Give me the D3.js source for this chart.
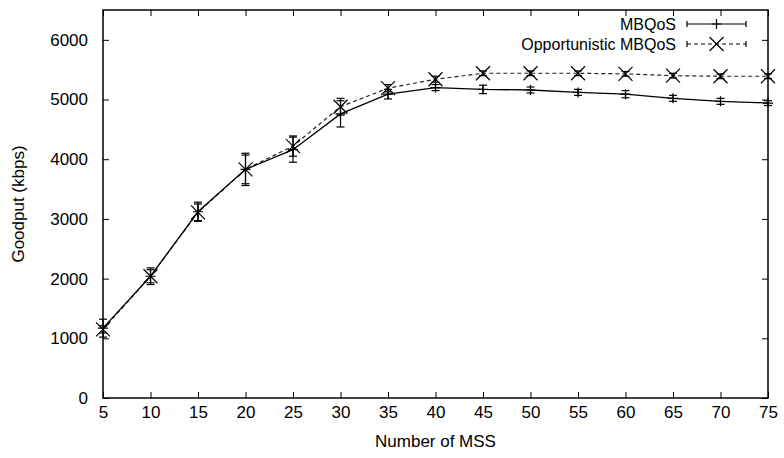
<!DOCTYPE html>
<html><head><meta charset="utf-8">
<script src="https://cdn.jsdelivr.net/npm/d3@7"></script>
<style>body{margin:0;background:#fff}svg{display:block}text{font-family:"Liberation Sans",Arial,sans-serif;fill:#000}</style>
</head><body><svg id="c" width="784" height="458"></svg>
<script>
const mss = [5,10,15,20,25,30,35,40,45,50,55,60,65,70,75];
const mbqos = [1170,2040,3120,3830,4160,4760,5090,5200,5170,5160,5120,5090,5020,4970,4940];
const mbqosErr = [150,140,160,270,210,220,80,50,70,50,50,60,50,50,40];
const opp = [1150,2040,3110,3830,4220,4880,5190,5340,5440,5440,5440,5430,5400,5390,5390];
const oppErr = [60,110,140,240,170,140,60,50,40,40,40,40,40,40,40];
const xTicks = [5,10,15,20,25,30,35,40,45,50,55,60,65,70,75];
const yTicks = [0,1000,2000,3000,4000,5000,6000];
const seriesNames = ["MBQoS","Opportunistic MBQoS"];

const svg = d3.select("#c");
const L=103,R=768,T=10,B=398;
const x = d3.scaleLinear().domain([5,75]).range([L,R]);
const y = d3.scaleLinear().domain([0,6500]).range([B,T]);

const tl=6;
const g = svg.append("g");
g.append("g").attr("transform",`translate(0,${B})`).call(d3.axisBottom(x).tickValues(xTicks).tickSize(-tl).tickPadding(2+tl).tickFormat(d3.format("d")))
 .call(s=>{s.select(".domain").remove();s.selectAll("text").attr("font-size",17).attr("dy","0.71em");});
g.append("g").attr("transform",`translate(0,${T})`).call(d3.axisTop(x).tickValues(xTicks).tickSize(-tl).tickFormat(""))
 .call(s=>s.select(".domain").remove());
g.append("g").attr("transform",`translate(${L},0)`).call(d3.axisLeft(y).tickValues(yTicks).tickSize(-tl).tickPadding(9+tl).tickFormat(d3.format("d")))
 .call(s=>{s.select(".domain").remove();s.selectAll("text").attr("font-size",17);});
g.append("g").attr("transform",`translate(${R},0)`).call(d3.axisRight(y).tickValues(yTicks).tickSize(-tl).tickFormat(""))
 .call(s=>s.select(".domain").remove());
g.selectAll(".tick line").attr("stroke","#000");
svg.append("rect").attr("x",L).attr("y",T).attr("width",R-L).attr("height",B-T).attr("fill","none").attr("stroke","#000").attr("stroke-width",1.5);

svg.append("text").attr("x",(L+R)/2).attr("y",447).attr("text-anchor","middle").attr("font-size",17).text("Number of MSS");
svg.append("text").attr("transform",`translate(24,${(T+B)/2}) rotate(-90)`).attr("text-anchor","middle").attr("font-size",17).text("Goodput (kbps)");

const line = d3.line().x(d=>x(d[0])).y(d=>y(d[1]));
function errBars(vals, errs){
  const eg = svg.append("g").attr("stroke","#000").attr("stroke-width",1.2);
  mss.forEach((m,i)=>{
    const px=x(m), y1=y(vals[i]-errs[i]), y2=y(vals[i]+errs[i]);
    eg.append("line").attr("x1",px).attr("x2",px).attr("y1",y1).attr("y2",y2);
    eg.append("line").attr("x1",px-4).attr("x2",px+4).attr("y1",y1).attr("y2",y1);
    eg.append("line").attr("x1",px-4).attr("x2",px+4).attr("y1",y2).attr("y2",y2);
  });
}
function plus(gr,px,py,s){gr.append("path").attr("d",`M${px-s},${py}H${px+s}M${px},${py-s}V${py+s}`);}
function cross(gr,px,py,s){gr.append("path").attr("d",`M${px-s},${py-s}L${px+s},${py+s}M${px-s},${py+s}L${px+s},${py-s}`);}

const d2 = mss.map((m,i)=>[m,opp[i]]);
svg.append("path").datum(d2).attr("d",line).attr("fill","none").attr("stroke","#222").attr("stroke-width",1.2).attr("stroke-dasharray","4,3");
errBars(opp,oppErr);
const m2 = svg.append("g").attr("stroke","#000").attr("stroke-width",1.2);
d2.forEach(d=>cross(m2,x(d[0]),y(d[1]),7));

const d1 = mss.map((m,i)=>[m,mbqos[i]]);
svg.append("path").datum(d1).attr("d",line).attr("fill","none").attr("stroke","#000").attr("stroke-width",1.3);
errBars(mbqos,mbqosErr);
const m1 = svg.append("g").attr("stroke","#000").attr("stroke-width",1.2);
d1.forEach(d=>plus(m1,x(d[0]),y(d[1]),5));

const lg = svg.append("g");
const rows=[{y:24,dash:null,mk:plus,s:5},{y:44,dash:"4,3",mk:cross,s:7}];
rows.forEach((r,i)=>{
  lg.append("text").attr("x",676).attr("y",r.y).attr("dy","0.35em").attr("text-anchor","end").attr("font-size",16).text(seriesNames[i]);
  const gg = lg.append("g").attr("stroke","#000").attr("stroke-width",1.2);
  gg.append("line").attr("x1",687).attr("x2",746).attr("y1",r.y).attr("y2",r.y).attr("stroke-dasharray",r.dash);
  gg.append("line").attr("x1",687).attr("x2",687).attr("y1",r.y-3).attr("y2",r.y+3);
  gg.append("line").attr("x1",746).attr("x2",746).attr("y1",r.y-3).attr("y2",r.y+3);
  r.mk(gg,716.5,r.y,r.s);
});
</script></body></html>
